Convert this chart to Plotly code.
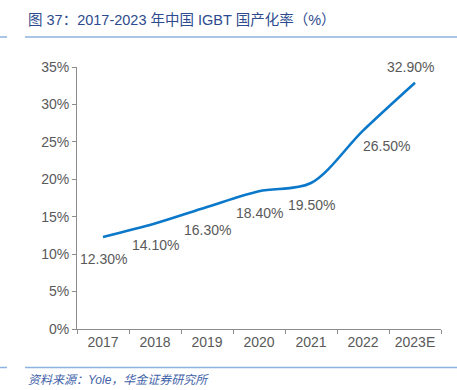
import plotly.graph_objects as go

years = ["2017", "2018", "2019", "2020", "2021", "2022", "2023E"]
rates = [12.3, 14.1, 16.3, 18.4, 19.5, 26.5, 32.9]
labels = ["12.30%", "14.10%", "16.30%", "18.40%", "19.50%", "26.50%", "32.90%"]
y_ticks = [0, 5, 10, 15, 20, 25, 30, 35]
y_tick_text = [f"{v}%" for v in y_ticks]

# label placement offsets (pixels): (x shift, y shift)
label_shifts = [(0, -22), (0, -22), (0, -23), (0, -22), (0, -22), (23, -15), (-5, 16)]

W, H = 457, 390
PW, PH = 364, 262
fig = go.Figure()
fig.add_trace(go.Scatter(
    x=years, y=rates, mode="lines",
    line=dict(color="#0b78c9", width=2.6, shape="spline", smoothing=0.9),
    hoverinfo="skip", showlegend=False,
))

ann = []
for i, (yv, t, (dx, dy)) in enumerate(zip(rates, labels, label_shifts)):
    ann.append(dict(x=i, y=yv, xref="x", yref="y", text=t, showarrow=False,
                    xshift=dx, yshift=dy, xanchor="center", yanchor="middle",
                    font=dict(family="Liberation Sans, Arial", size=14, color="#595959")))

line_col = "#8db3e0"
def hline(x0, x1, ypx):
    return dict(type="line", xref="paper", yref="paper",
                x0=x0 / PW, x1=x1 / PW, y0=ypx / PH, y1=ypx / PH,
                line=dict(color=line_col, width=1.5))

tick_font = dict(family="Liberation Sans, Arial", size=14, color="#595959")
fig.update_layout(
    width=W, height=H,
    margin=dict(l=77, r=16, t=67, b=61),
    paper_bgcolor="white", plot_bgcolor="white",
    xaxis=dict(
        type="category", range=[-0.5, 6.5], tickson="boundaries",
        showline=True, linecolor="#8c8c8c", linewidth=1,
        ticks="outside", ticklen=4, tickcolor="#8c8c8c",
        showgrid=False, zeroline=False, tickfont=tick_font,
    ),
    yaxis=dict(
        range=[0, 35], tickvals=y_ticks, ticktext=y_tick_text,
        showline=True, linecolor="#8c8c8c", linewidth=1,
        ticks="outside", ticklen=4, tickcolor="#8c8c8c",
        showgrid=False, zeroline=False, tickfont=tick_font,
    ),
    shapes=[
        hline(-77, -70, PH + 30),
        hline(-52, 380, PH + 30),
        hline(-77, -70, -38.5),
        hline(-52, 380, -38.5),
    ],
    annotations=ann + [
        dict(text="图 37：2017-2023 年中国 IGBT 国产化率（%）",
             xref="paper", yref="paper", x=-51 / PW, y=(PH + 47) / PH,
             xanchor="left", yanchor="middle", showarrow=False,
             font=dict(family="Liberation Sans, Noto Sans CJK SC", size=14.5, color="#2d4b8e")),
        dict(text="<i>资料来源：Yole，华金证券研究所</i>",
             xref="paper", yref="paper", x=-51 / PW, y=-51 / PH,
             xanchor="left", yanchor="middle", showarrow=False,
             font=dict(family="Liberation Sans, Noto Sans CJK SC", size=12, color="#3f62a8")),
    ],
)

fig.write_html("out.html", post_script="document.body.style.margin='0';",
               config={"displayModeBar": False})
